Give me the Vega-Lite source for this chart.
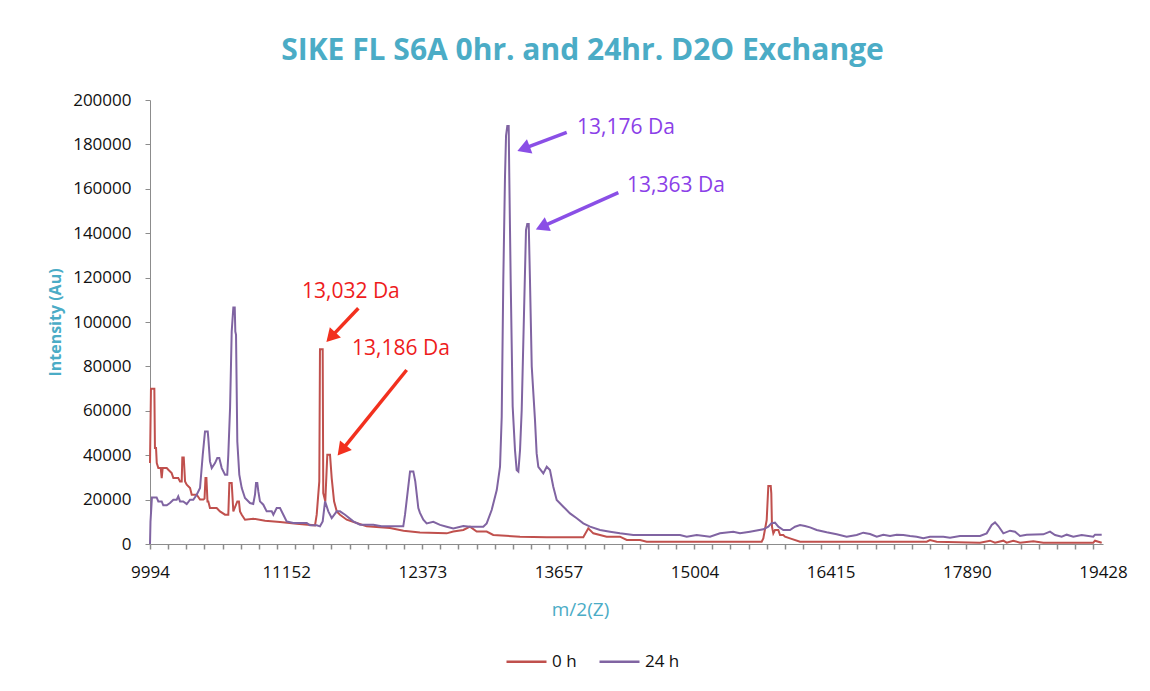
{
  "$schema": "https://vega.github.io/schema/vega-lite/v6.json",
  "width": 953,
  "height": 444,
  "autosize": {"type": "none"},
  "padding": {"left": 150, "top": 100, "right": 47, "bottom": 147},
  "background": "white",
  "title": {
    "text": "SIKE FL S6A 0hr. and 24hr. D2O Exchange",
    "anchor": "middle",
    "dx": -44,
    "offset": 25,
    "font": "Open Sans",
    "fontSize": 30,
    "fontWeight": "bold",
    "color": "#4BACC6"
  },
  "config": {
    "view": {"stroke": null},
    "font": "Open Sans",
    "axis": {
      "grid": false,
      "domainColor": "#8c8c8c",
      "tickColor": "#8c8c8c",
      "labelColor": "#111111",
      "labelFont": "Open Sans",
      "labelFontSize": 17
    }
  },
  "datasets": {
    "spectra": [
      {"mz": 9994, "i": 36500, "s": "0 h"},
      {"mz": 10002, "i": 69900, "s": "0 h"},
      {"mz": 10030, "i": 69900, "s": "0 h"},
      {"mz": 10035, "i": 43200, "s": "0 h"},
      {"mz": 10044, "i": 43200, "s": "0 h"},
      {"mz": 10050, "i": 36450, "s": "0 h"},
      {"mz": 10063, "i": 34200, "s": "0 h"},
      {"mz": 10083, "i": 34200, "s": "0 h"},
      {"mz": 10091, "i": 29700, "s": "0 h"},
      {"mz": 10099, "i": 34200, "s": "0 h"},
      {"mz": 10133, "i": 34200, "s": "0 h"},
      {"mz": 10146, "i": 33450, "s": "0 h"},
      {"mz": 10174, "i": 31950, "s": "0 h"},
      {"mz": 10188, "i": 29700, "s": "0 h"},
      {"mz": 10229, "i": 29700, "s": "0 h"},
      {"mz": 10244, "i": 28200, "s": "0 h"},
      {"mz": 10258, "i": 28200, "s": "0 h"},
      {"mz": 10263, "i": 39000, "s": "0 h"},
      {"mz": 10275, "i": 39000, "s": "0 h"},
      {"mz": 10286, "i": 28200, "s": "0 h"},
      {"mz": 10300, "i": 26700, "s": "0 h"},
      {"mz": 10328, "i": 25200, "s": "0 h"},
      {"mz": 10342, "i": 22200, "s": "0 h"},
      {"mz": 10384, "i": 22200, "s": "0 h"},
      {"mz": 10412, "i": 20000, "s": "0 h"},
      {"mz": 10440, "i": 20000, "s": "0 h"},
      {"mz": 10450, "i": 20500, "s": "0 h"},
      {"mz": 10458, "i": 29700, "s": "0 h"},
      {"mz": 10466, "i": 29700, "s": "0 h"},
      {"mz": 10475, "i": 19200, "s": "0 h"},
      {"mz": 10482, "i": 19200, "s": "0 h"},
      {"mz": 10496, "i": 16200, "s": "0 h"},
      {"mz": 10553, "i": 16200, "s": "0 h"},
      {"mz": 10581, "i": 14700, "s": "0 h"},
      {"mz": 10624, "i": 13200, "s": "0 h"},
      {"mz": 10652, "i": 13200, "s": "0 h"},
      {"mz": 10661, "i": 27450, "s": "0 h"},
      {"mz": 10681, "i": 27450, "s": "0 h"},
      {"mz": 10695, "i": 14700, "s": "0 h"},
      {"mz": 10729, "i": 19200, "s": "0 h"},
      {"mz": 10743, "i": 19200, "s": "0 h"},
      {"mz": 10752, "i": 14700, "s": "0 h"},
      {"mz": 10767, "i": 13200, "s": "0 h"},
      {"mz": 10795, "i": 10950, "s": "0 h"},
      {"mz": 10866, "i": 11400, "s": "0 h"},
      {"mz": 10968, "i": 10500, "s": "0 h"},
      {"mz": 11098, "i": 9900, "s": "0 h"},
      {"mz": 11244, "i": 9150, "s": "0 h"},
      {"mz": 11405, "i": 8400, "s": "0 h"},
      {"mz": 11420, "i": 13200, "s": "0 h"},
      {"mz": 11443, "i": 28200, "s": "0 h"},
      {"mz": 11449, "i": 87750, "s": "0 h"},
      {"mz": 11473, "i": 87750, "s": "0 h"},
      {"mz": 11478, "i": 22950, "s": "0 h"},
      {"mz": 11496, "i": 19200, "s": "0 h"},
      {"mz": 11514, "i": 40200, "s": "0 h"},
      {"mz": 11538, "i": 40200, "s": "0 h"},
      {"mz": 11553, "i": 29700, "s": "0 h"},
      {"mz": 11574, "i": 19200, "s": "0 h"},
      {"mz": 11598, "i": 14700, "s": "0 h"},
      {"mz": 11627, "i": 13200, "s": "0 h"},
      {"mz": 11687, "i": 10950, "s": "0 h"},
      {"mz": 11776, "i": 9450, "s": "0 h"},
      {"mz": 11866, "i": 7950, "s": "0 h"},
      {"mz": 12077, "i": 7200, "s": "0 h"},
      {"mz": 12200, "i": 6000, "s": "0 h"},
      {"mz": 12351, "i": 5200, "s": "0 h"},
      {"mz": 12598, "i": 4800, "s": "0 h"},
      {"mz": 12659, "i": 5600, "s": "0 h"},
      {"mz": 12753, "i": 6300, "s": "0 h"},
      {"mz": 12815, "i": 7800, "s": "0 h"},
      {"mz": 12878, "i": 5600, "s": "0 h"},
      {"mz": 12972, "i": 5600, "s": "0 h"},
      {"mz": 13034, "i": 4050, "s": "0 h"},
      {"mz": 13288, "i": 3300, "s": "0 h"},
      {"mz": 13544, "i": 3000, "s": "0 h"},
      {"mz": 13898, "i": 3000, "s": "0 h"},
      {"mz": 13947, "i": 7050, "s": "0 h"},
      {"mz": 13996, "i": 4800, "s": "0 h"},
      {"mz": 14127, "i": 3300, "s": "0 h"},
      {"mz": 14258, "i": 3300, "s": "0 h"},
      {"mz": 14325, "i": 1800, "s": "0 h"},
      {"mz": 14457, "i": 1800, "s": "0 h"},
      {"mz": 14523, "i": 1050, "s": "0 h"},
      {"mz": 15605, "i": 1050, "s": "0 h"},
      {"mz": 15692, "i": 1050, "s": "0 h"},
      {"mz": 15709, "i": 2550, "s": "0 h"},
      {"mz": 15744, "i": 10800, "s": "0 h"},
      {"mz": 15761, "i": 26100, "s": "0 h"},
      {"mz": 15786, "i": 26100, "s": "0 h"},
      {"mz": 15792, "i": 22800, "s": "0 h"},
      {"mz": 15799, "i": 7800, "s": "0 h"},
      {"mz": 15813, "i": 4800, "s": "0 h"},
      {"mz": 15830, "i": 6300, "s": "0 h"},
      {"mz": 15865, "i": 6300, "s": "0 h"},
      {"mz": 15883, "i": 4050, "s": "0 h"},
      {"mz": 15917, "i": 4050, "s": "0 h"},
      {"mz": 15935, "i": 3300, "s": "0 h"},
      {"mz": 15987, "i": 2550, "s": "0 h"},
      {"mz": 16092, "i": 1050, "s": "0 h"},
      {"mz": 17449, "i": 1050, "s": "0 h"},
      {"mz": 17485, "i": 1800, "s": "0 h"},
      {"mz": 17558, "i": 1050, "s": "0 h"},
      {"mz": 18036, "i": 600, "s": "0 h"},
      {"mz": 18147, "i": 1500, "s": "0 h"},
      {"mz": 18203, "i": 600, "s": "0 h"},
      {"mz": 18296, "i": 1500, "s": "0 h"},
      {"mz": 18333, "i": 600, "s": "0 h"},
      {"mz": 18407, "i": 1500, "s": "0 h"},
      {"mz": 18483, "i": 600, "s": "0 h"},
      {"mz": 18633, "i": 1200, "s": "0 h"},
      {"mz": 18746, "i": 600, "s": "0 h"},
      {"mz": 19316, "i": 600, "s": "0 h"},
      {"mz": 19336, "i": 1500, "s": "0 h"},
      {"mz": 19413, "i": 600, "s": "0 h"},
      {"mz": 9994, "i": 0, "s": "24 h"},
      {"mz": 9998, "i": 10000, "s": "24 h"},
      {"mz": 10010, "i": 21000, "s": "24 h"},
      {"mz": 10049, "i": 21000, "s": "24 h"},
      {"mz": 10063, "i": 19200, "s": "24 h"},
      {"mz": 10091, "i": 19200, "s": "24 h"},
      {"mz": 10104, "i": 17400, "s": "24 h"},
      {"mz": 10133, "i": 17400, "s": "24 h"},
      {"mz": 10160, "i": 18450, "s": "24 h"},
      {"mz": 10188, "i": 19950, "s": "24 h"},
      {"mz": 10216, "i": 19950, "s": "24 h"},
      {"mz": 10229, "i": 21450, "s": "24 h"},
      {"mz": 10244, "i": 19200, "s": "24 h"},
      {"mz": 10271, "i": 19200, "s": "24 h"},
      {"mz": 10300, "i": 18000, "s": "24 h"},
      {"mz": 10328, "i": 19950, "s": "24 h"},
      {"mz": 10355, "i": 19950, "s": "24 h"},
      {"mz": 10384, "i": 22200, "s": "24 h"},
      {"mz": 10412, "i": 25200, "s": "24 h"},
      {"mz": 10435, "i": 40200, "s": "24 h"},
      {"mz": 10454, "i": 50700, "s": "24 h"},
      {"mz": 10477, "i": 50700, "s": "24 h"},
      {"mz": 10482, "i": 47700, "s": "24 h"},
      {"mz": 10496, "i": 37200, "s": "24 h"},
      {"mz": 10511, "i": 34200, "s": "24 h"},
      {"mz": 10539, "i": 36450, "s": "24 h"},
      {"mz": 10558, "i": 38700, "s": "24 h"},
      {"mz": 10575, "i": 38700, "s": "24 h"},
      {"mz": 10596, "i": 34200, "s": "24 h"},
      {"mz": 10624, "i": 31200, "s": "24 h"},
      {"mz": 10643, "i": 31200, "s": "24 h"},
      {"mz": 10652, "i": 40200, "s": "24 h"},
      {"mz": 10667, "i": 61200, "s": "24 h"},
      {"mz": 10681, "i": 95700, "s": "24 h"},
      {"mz": 10695, "i": 106500, "s": "24 h"},
      {"mz": 10707, "i": 106500, "s": "24 h"},
      {"mz": 10712, "i": 95700, "s": "24 h"},
      {"mz": 10718, "i": 94200, "s": "24 h"},
      {"mz": 10729, "i": 46200, "s": "24 h"},
      {"mz": 10746, "i": 31200, "s": "24 h"},
      {"mz": 10767, "i": 25200, "s": "24 h"},
      {"mz": 10795, "i": 20700, "s": "24 h"},
      {"mz": 10838, "i": 18450, "s": "24 h"},
      {"mz": 10866, "i": 18000, "s": "24 h"},
      {"mz": 10881, "i": 22200, "s": "24 h"},
      {"mz": 10890, "i": 27450, "s": "24 h"},
      {"mz": 10901, "i": 27450, "s": "24 h"},
      {"mz": 10910, "i": 23700, "s": "24 h"},
      {"mz": 10924, "i": 19200, "s": "24 h"},
      {"mz": 10953, "i": 17700, "s": "24 h"},
      {"mz": 10982, "i": 14700, "s": "24 h"},
      {"mz": 11026, "i": 14700, "s": "24 h"},
      {"mz": 11040, "i": 13200, "s": "24 h"},
      {"mz": 11069, "i": 16200, "s": "24 h"},
      {"mz": 11098, "i": 16200, "s": "24 h"},
      {"mz": 11127, "i": 13200, "s": "24 h"},
      {"mz": 11156, "i": 10200, "s": "24 h"},
      {"mz": 11214, "i": 9450, "s": "24 h"},
      {"mz": 11332, "i": 9450, "s": "24 h"},
      {"mz": 11361, "i": 8400, "s": "24 h"},
      {"mz": 11420, "i": 8400, "s": "24 h"},
      {"mz": 11449, "i": 7950, "s": "24 h"},
      {"mz": 11473, "i": 10200, "s": "24 h"},
      {"mz": 11494, "i": 19200, "s": "24 h"},
      {"mz": 11523, "i": 14700, "s": "24 h"},
      {"mz": 11553, "i": 11700, "s": "24 h"},
      {"mz": 11598, "i": 14700, "s": "24 h"},
      {"mz": 11627, "i": 14700, "s": "24 h"},
      {"mz": 11672, "i": 13200, "s": "24 h"},
      {"mz": 11746, "i": 10200, "s": "24 h"},
      {"mz": 11806, "i": 8700, "s": "24 h"},
      {"mz": 11926, "i": 8700, "s": "24 h"},
      {"mz": 12000, "i": 7950, "s": "24 h"},
      {"mz": 12198, "i": 7950, "s": "24 h"},
      {"mz": 12214, "i": 13200, "s": "24 h"},
      {"mz": 12260, "i": 32700, "s": "24 h"},
      {"mz": 12290, "i": 32700, "s": "24 h"},
      {"mz": 12308, "i": 28200, "s": "24 h"},
      {"mz": 12336, "i": 16200, "s": "24 h"},
      {"mz": 12351, "i": 14000, "s": "24 h"},
      {"mz": 12382, "i": 11000, "s": "24 h"},
      {"mz": 12413, "i": 9300, "s": "24 h"},
      {"mz": 12474, "i": 10000, "s": "24 h"},
      {"mz": 12536, "i": 8600, "s": "24 h"},
      {"mz": 12598, "i": 7800, "s": "24 h"},
      {"mz": 12659, "i": 7000, "s": "24 h"},
      {"mz": 12753, "i": 8100, "s": "24 h"},
      {"mz": 12815, "i": 7800, "s": "24 h"},
      {"mz": 12940, "i": 7800, "s": "24 h"},
      {"mz": 12972, "i": 9300, "s": "24 h"},
      {"mz": 13019, "i": 15300, "s": "24 h"},
      {"mz": 13067, "i": 24300, "s": "24 h"},
      {"mz": 13098, "i": 34800, "s": "24 h"},
      {"mz": 13114, "i": 57300, "s": "24 h"},
      {"mz": 13129, "i": 118900, "s": "24 h"},
      {"mz": 13145, "i": 165200, "s": "24 h"},
      {"mz": 13155, "i": 184000, "s": "24 h"},
      {"mz": 13167, "i": 188300, "s": "24 h"},
      {"mz": 13180, "i": 188300, "s": "24 h"},
      {"mz": 13186, "i": 165200, "s": "24 h"},
      {"mz": 13199, "i": 118900, "s": "24 h"},
      {"mz": 13218, "i": 61900, "s": "24 h"},
      {"mz": 13240, "i": 42300, "s": "24 h"},
      {"mz": 13256, "i": 33300, "s": "24 h"},
      {"mz": 13272, "i": 32600, "s": "24 h"},
      {"mz": 13288, "i": 42300, "s": "24 h"},
      {"mz": 13304, "i": 60300, "s": "24 h"},
      {"mz": 13326, "i": 103900, "s": "24 h"},
      {"mz": 13345, "i": 141400, "s": "24 h"},
      {"mz": 13357, "i": 144100, "s": "24 h"},
      {"mz": 13371, "i": 144100, "s": "24 h"},
      {"mz": 13383, "i": 118900, "s": "24 h"},
      {"mz": 13400, "i": 79900, "s": "24 h"},
      {"mz": 13431, "i": 55900, "s": "24 h"},
      {"mz": 13447, "i": 40800, "s": "24 h"},
      {"mz": 13463, "i": 34800, "s": "24 h"},
      {"mz": 13511, "i": 31800, "s": "24 h"},
      {"mz": 13544, "i": 34800, "s": "24 h"},
      {"mz": 13575, "i": 33300, "s": "24 h"},
      {"mz": 13607, "i": 25800, "s": "24 h"},
      {"mz": 13640, "i": 19800, "s": "24 h"},
      {"mz": 13704, "i": 16800, "s": "24 h"},
      {"mz": 13769, "i": 13800, "s": "24 h"},
      {"mz": 13834, "i": 11600, "s": "24 h"},
      {"mz": 13898, "i": 9300, "s": "24 h"},
      {"mz": 13964, "i": 7800, "s": "24 h"},
      {"mz": 14062, "i": 6300, "s": "24 h"},
      {"mz": 14160, "i": 5550, "s": "24 h"},
      {"mz": 14258, "i": 4800, "s": "24 h"},
      {"mz": 14390, "i": 4050, "s": "24 h"},
      {"mz": 14857, "i": 4050, "s": "24 h"},
      {"mz": 14925, "i": 3300, "s": "24 h"},
      {"mz": 15026, "i": 4050, "s": "24 h"},
      {"mz": 15161, "i": 3300, "s": "24 h"},
      {"mz": 15263, "i": 4800, "s": "24 h"},
      {"mz": 15399, "i": 5550, "s": "24 h"},
      {"mz": 15468, "i": 4800, "s": "24 h"},
      {"mz": 15571, "i": 5550, "s": "24 h"},
      {"mz": 15709, "i": 6600, "s": "24 h"},
      {"mz": 15761, "i": 7800, "s": "24 h"},
      {"mz": 15792, "i": 9300, "s": "24 h"},
      {"mz": 15830, "i": 9600, "s": "24 h"},
      {"mz": 15865, "i": 7800, "s": "24 h"},
      {"mz": 15917, "i": 6300, "s": "24 h"},
      {"mz": 15987, "i": 6300, "s": "24 h"},
      {"mz": 16039, "i": 7800, "s": "24 h"},
      {"mz": 16092, "i": 8550, "s": "24 h"},
      {"mz": 16144, "i": 8100, "s": "24 h"},
      {"mz": 16197, "i": 7500, "s": "24 h"},
      {"mz": 16267, "i": 6300, "s": "24 h"},
      {"mz": 16373, "i": 5250, "s": "24 h"},
      {"mz": 16479, "i": 4350, "s": "24 h"},
      {"mz": 16585, "i": 3300, "s": "24 h"},
      {"mz": 16692, "i": 4050, "s": "24 h"},
      {"mz": 16763, "i": 5100, "s": "24 h"},
      {"mz": 16835, "i": 4500, "s": "24 h"},
      {"mz": 16907, "i": 3300, "s": "24 h"},
      {"mz": 16978, "i": 4200, "s": "24 h"},
      {"mz": 17050, "i": 3600, "s": "24 h"},
      {"mz": 17122, "i": 4200, "s": "24 h"},
      {"mz": 17194, "i": 4050, "s": "24 h"},
      {"mz": 17267, "i": 3600, "s": "24 h"},
      {"mz": 17339, "i": 3300, "s": "24 h"},
      {"mz": 17411, "i": 2550, "s": "24 h"},
      {"mz": 17485, "i": 3300, "s": "24 h"},
      {"mz": 17631, "i": 3300, "s": "24 h"},
      {"mz": 17704, "i": 2850, "s": "24 h"},
      {"mz": 17814, "i": 3600, "s": "24 h"},
      {"mz": 18036, "i": 3600, "s": "24 h"},
      {"mz": 18110, "i": 4800, "s": "24 h"},
      {"mz": 18166, "i": 8550, "s": "24 h"},
      {"mz": 18203, "i": 9750, "s": "24 h"},
      {"mz": 18240, "i": 8100, "s": "24 h"},
      {"mz": 18296, "i": 4800, "s": "24 h"},
      {"mz": 18371, "i": 6000, "s": "24 h"},
      {"mz": 18427, "i": 5550, "s": "24 h"},
      {"mz": 18483, "i": 3600, "s": "24 h"},
      {"mz": 18558, "i": 4200, "s": "24 h"},
      {"mz": 18746, "i": 4350, "s": "24 h"},
      {"mz": 18822, "i": 5550, "s": "24 h"},
      {"mz": 18879, "i": 4050, "s": "24 h"},
      {"mz": 18955, "i": 3300, "s": "24 h"},
      {"mz": 19012, "i": 4200, "s": "24 h"},
      {"mz": 19087, "i": 3300, "s": "24 h"},
      {"mz": 19183, "i": 4050, "s": "24 h"},
      {"mz": 19316, "i": 3300, "s": "24 h"},
      {"mz": 19336, "i": 4200, "s": "24 h"},
      {"mz": 19413, "i": 4200, "s": "24 h"}
    ],
    "notes": [
      {"label": "13,176 Da", "mz": 13837, "i": 187400, "c": "p"},
      {"label": "13,363 Da", "mz": 14328, "i": 161260, "c": "p"},
      {"label": "13,032 Da", "mz": 11290, "i": 113510, "c": "r"},
      {"label": "13,186 Da", "mz": 11734, "i": 87840, "c": "r"}
    ],
    "arrows": [
      {"id": "p1", "mz": 13737, "i": 185450, "mz2": 13341, "i2": 178420},
      {"id": "p2", "mz": 14242, "i": 158240, "mz2": 13516, "i2": 143290},
      {"id": "r1", "mz": 11791, "i": 106170, "mz2": 11559, "i2": 93870},
      {"id": "r2", "mz": 12229, "i": 78380, "mz2": 11655, "i2": 42970}
    ]
  },
  "layer": [
    {
      "data": {"name": "spectra"},
      "mark": {"type": "line", "strokeWidth": 2},
      "encoding": {
        "x": {
          "field": "mz",
          "type": "quantitative",
          "scale": {"type": "sqrt", "domain": [9994, 19428], "nice": false, "zero": false},
          "axis": {
            "orient": "bottom",
            "values": [9994, 11152, 12373, 13657, 15004, 16415, 17890, 19428],
            "format": "d",
            "ticks": false,
            "tickSize": 0,
            "labelPadding": 20,
            "labelFlush": false,
            "labelOverlap": false,
            "title": "m/2(Z)",
            "titleColor": "#4BACC6",
            "titleFont": "Open Sans",
            "titleFontSize": 19,
            "titleFontWeight": "normal",
            "titleX": 430,
            "titleY": 65,
            "titleBaseline": "middle"
          }
        },
        "y": {
          "field": "i",
          "type": "quantitative",
          "scale": {"domain": [0, 200000], "nice": false},
          "axis": {
            "values": [0, 20000, 40000, 60000, 80000, 100000, 120000, 140000, 160000, 180000, 200000],
            "format": "d",
            "tickSize": 5,
            "labelPadding": 14,
            "title": "Intensity (Au)",
            "titleColor": "#4BACC6",
            "titleFont": "Open Sans",
            "titleFontSize": 16,
            "titleFontWeight": "bold",
            "titleX": -95,
            "titleBaseline": "middle"
          }
        },
        "color": {
          "field": "s",
          "type": "nominal",
          "scale": {"domain": ["0 h", "24 h"], "range": ["#C0504D", "#8064A2"]},
          "legend": {
            "orient": "none",
            "legendX": 355,
            "legendY": 540,
            "direction": "horizontal",
            "title": null,
            "symbolType": "stroke",
            "symbolSize": 1600,
            "symbolStrokeWidth": 2.5,
            "labelFont": "Open Sans",
            "labelFontSize": 17,
            "labelColor": "#111111",
            "labelOffset": 4,
            "columnPadding": 17,
            "padding": 0
          }
        }
      }
    },
    {
      "data": {"name": "arrows"},
      "transform": [{"filter": "datum.id[0] == 'p'"}],
      "mark": {"type": "rule", "color": "#8A4FE6", "strokeWidth": 3.5},
      "encoding": {
        "x": {"field": "mz", "type": "quantitative", "axis": null},
        "x2": {"field": "mz2"},
        "y": {"field": "i", "type": "quantitative"},
        "y2": {"field": "i2"}
      }
    },
    {
      "data": {"name": "arrows"},
      "transform": [{"filter": "datum.id[0] == 'r'"}],
      "mark": {"type": "rule", "color": "#F2301E", "strokeWidth": 3.5},
      "encoding": {
        "x": {"field": "mz", "type": "quantitative", "axis": null},
        "x2": {"field": "mz2"},
        "y": {"field": "i", "type": "quantitative"},
        "y2": {"field": "i2"}
      }
    },
    {
      "data": {"name": "arrows"},
      "transform": [{"filter": "datum.id == 'p1'"}],
      "mark": {"type": "point", "shape": "triangle", "filled": true, "opacity": 1, "color": "#8A4FE6", "size": 230, "angle": 249},
      "encoding": {
        "x": {"field": "mz2", "type": "quantitative", "axis": null},
        "y": {"field": "i2", "type": "quantitative"}
      }
    },
    {
      "data": {"name": "arrows"},
      "transform": [{"filter": "datum.id == 'p2'"}],
      "mark": {"type": "point", "shape": "triangle", "filled": true, "opacity": 1, "color": "#8A4FE6", "size": 230, "angle": 246},
      "encoding": {
        "x": {"field": "mz2", "type": "quantitative", "axis": null},
        "y": {"field": "i2", "type": "quantitative"}
      }
    },
    {
      "data": {"name": "arrows"},
      "transform": [{"filter": "datum.id == 'r1'"}],
      "mark": {"type": "point", "shape": "triangle", "filled": true, "opacity": 1, "color": "#F2301E", "size": 230, "angle": 223},
      "encoding": {
        "x": {"field": "mz2", "type": "quantitative", "axis": null},
        "y": {"field": "i2", "type": "quantitative"}
      }
    },
    {
      "data": {"name": "arrows"},
      "transform": [{"filter": "datum.id == 'r2'"}],
      "mark": {"type": "point", "shape": "triangle", "filled": true, "opacity": 1, "color": "#F2301E", "size": 230, "angle": 219},
      "encoding": {
        "x": {"field": "mz2", "type": "quantitative", "axis": null},
        "y": {"field": "i2", "type": "quantitative"}
      }
    },
    {
      "data": {"name": "notes"},
      "transform": [{"filter": "datum.c == 'p'"}],
      "mark": {"type": "text", "align": "left", "baseline": "middle", "font": "Open Sans", "fontSize": 21, "color": "#8B3FE8"},
      "encoding": {
        "x": {"field": "mz", "type": "quantitative", "axis": null},
        "y": {"field": "i", "type": "quantitative"},
        "text": {"field": "label"}
      }
    },
    {
      "data": {"name": "notes"},
      "transform": [{"filter": "datum.c == 'r'"}],
      "mark": {"type": "text", "align": "left", "baseline": "middle", "font": "Open Sans", "fontSize": 21, "color": "#EE1C1C"},
      "encoding": {
        "x": {
          "field": "mz",
          "type": "quantitative",
          "axis": {
            "orient": "bottom",
            "values": [9994, 10144.5, 10296.2, 10449.1, 10603, 10758.1, 10914.2, 11071.6, 11230.1, 11389.6, 11550.2, 11712.2, 11875.1, 12039.1, 12204.3, 12370.8, 12538.2, 12706.7, 12876.4, 13047.3, 13219.3, 13392.3, 13566.4, 13741.9, 13918.3, 14095.9, 14274.5, 14454.3, 14635.4, 14817.5, 15000.6, 15184.9, 15370.5, 15557.1, 15744.7, 15933.5, 16123.7, 16314.7, 16506.9, 16700.1, 16894.8, 17090.3, 17287, 17484.8, 17683.9, 17884, 18085.2, 18287.4, 18491.1, 18695.6, 18901.3, 19108.1, 19316],
            "labels": false,
            "domain": false,
            "ticks": true,
            "tickSize": 5,
            "tickWidth": 1.5,
            "tickColor": "#8c8c8c",
            "title": null
          }
        },
        "y": {"field": "i", "type": "quantitative"},
        "text": {"field": "label"}
      }
    }
  ],
  "resolve": {"axis": {"x": "independent"}}
}
